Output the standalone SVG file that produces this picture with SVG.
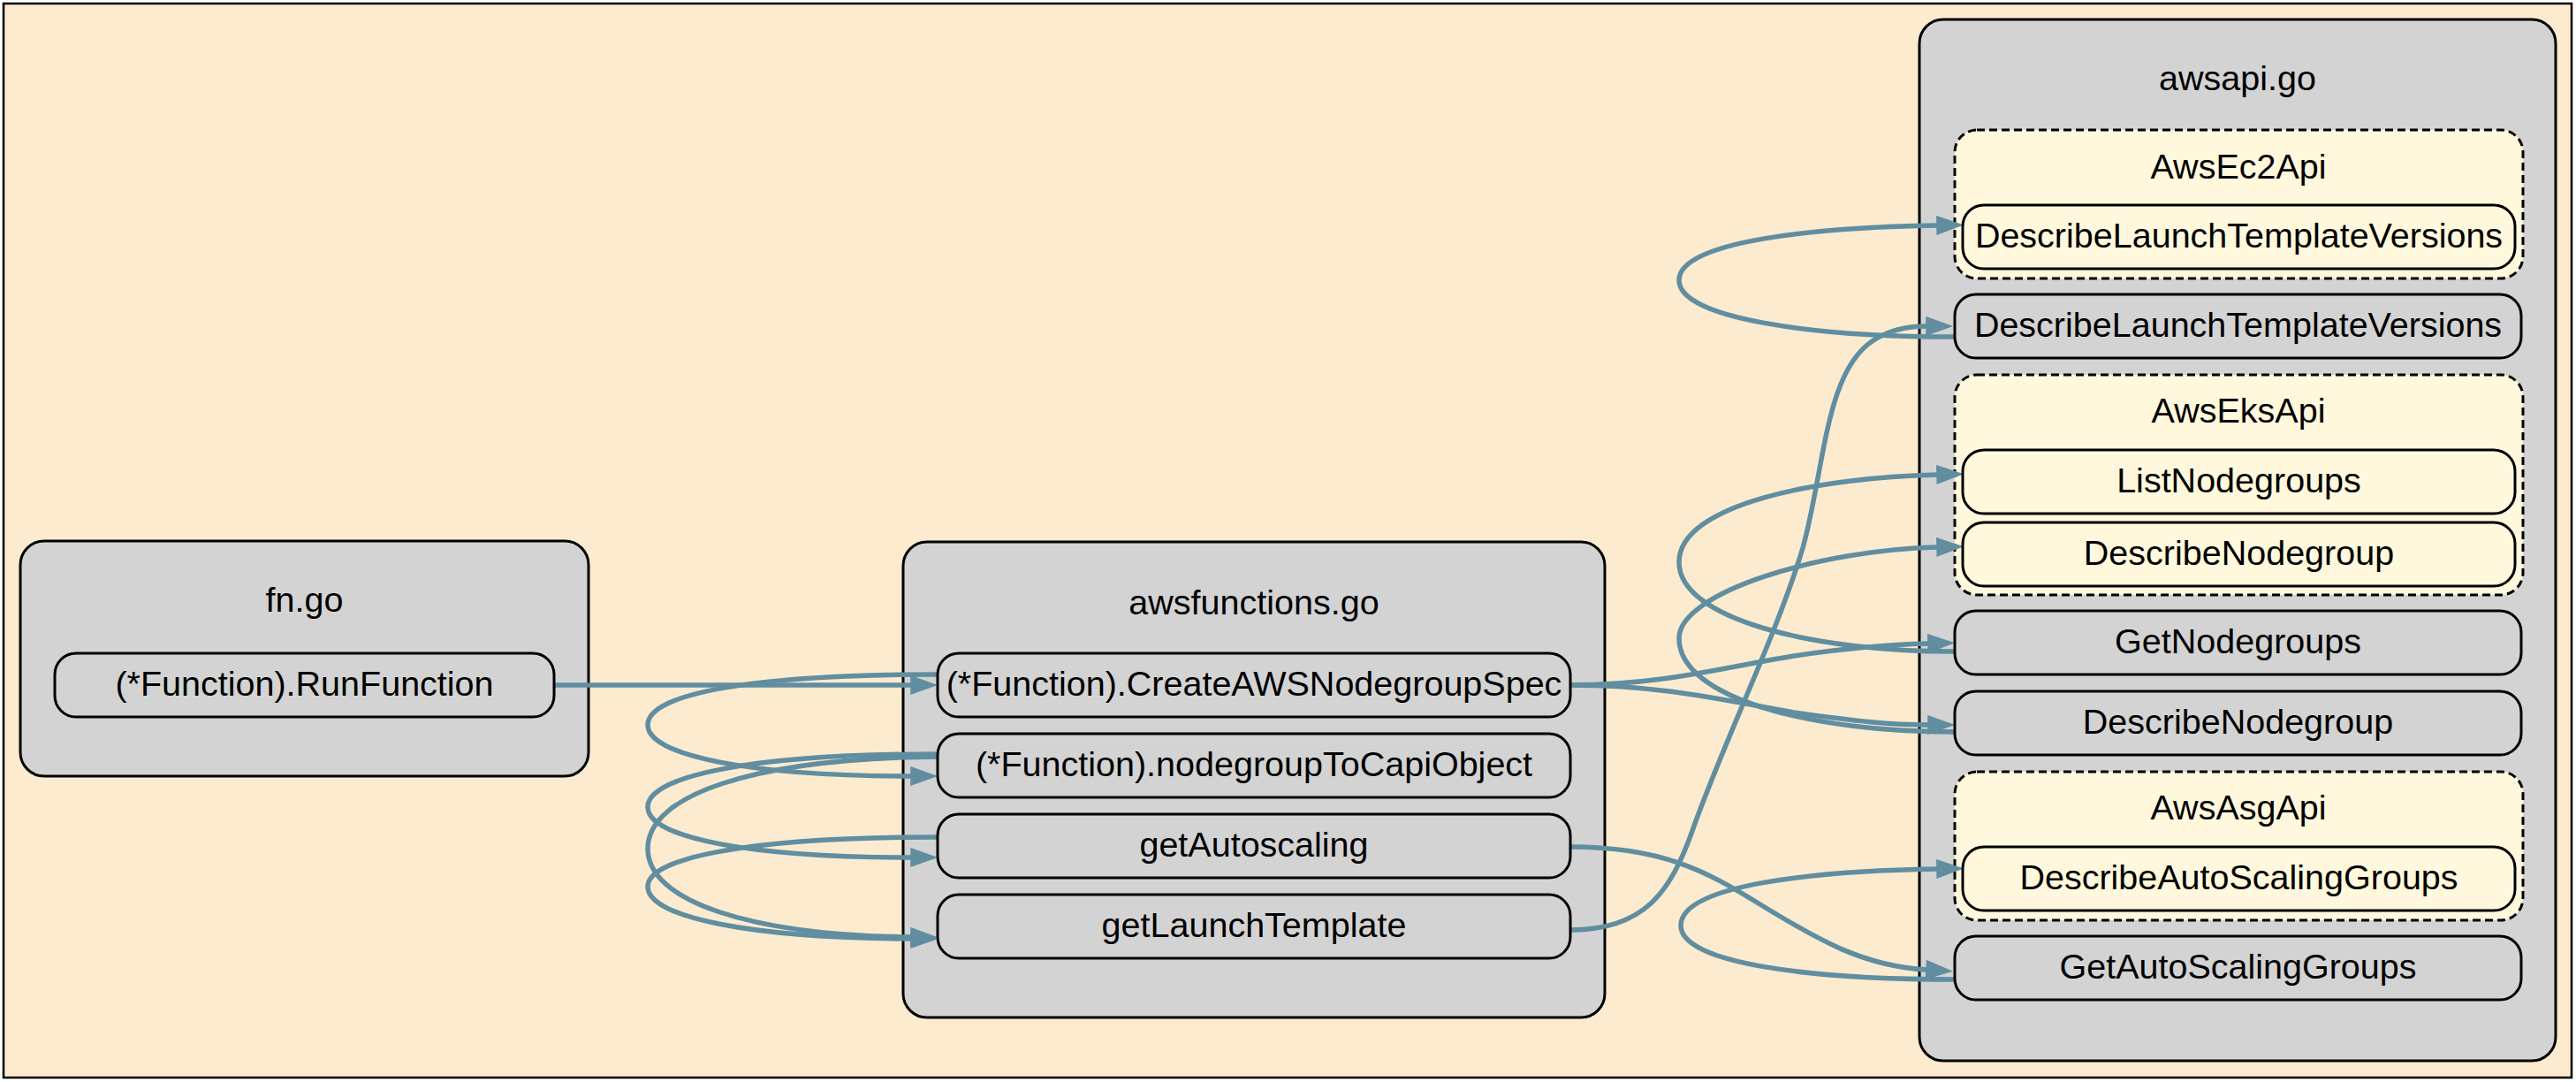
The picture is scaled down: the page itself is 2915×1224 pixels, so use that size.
<svg xmlns="http://www.w3.org/2000/svg" width="2915" height="1224" viewBox="0 0 2915 1224">
<style>
text{font-family:"Liberation Sans",Arial,sans-serif;font-size:39.5px;fill:#000;text-anchor:middle}
.cl{fill:#d3d3d3;stroke:#000;stroke-width:3}
.dc{fill:#fff8dc;stroke:#000;stroke-width:3;stroke-dasharray:9,5}
.n{fill:#d3d3d3;stroke:#000;stroke-width:3}
.ny{fill:#fff8dc;stroke:#000;stroke-width:3}
.e{fill:none;stroke:#608ea0;stroke-width:5.5}
</style>
<defs>
<marker id="ah" markerUnits="userSpaceOnUse" markerWidth="32" markerHeight="24" refX="0" refY="10" orient="auto" overflow="visible">
<path d="M0,0 L28,10 L0,20 z" fill="#608ea0" stroke="#608ea0" stroke-width="1.5"/>
</marker>
</defs>
<rect x="0" y="0" width="2915" height="1224" fill="#fff"/>
<rect x="4" y="4" width="2906" height="1215" fill="#fcebcf" stroke="#000" stroke-width="2.5"/>

<g id="cluster-fn">
<rect class="cl" x="23" y="612" width="643" height="266" rx="27"/>
<text x="344.5" y="692">fn.go</text>
</g>
<g id="cluster-awsfunctions">
<rect class="cl" x="1022" y="613" width="794" height="538" rx="27"/>
<text x="1419" y="695">awsfunctions.go</text>
</g>
<g id="cluster-awsapi">
<rect class="cl" x="2172" y="22" width="720" height="1178" rx="27"/>
<text x="2532" y="102">awsapi.go</text>
</g>
<g id="cluster-AwsEc2Api">
<rect class="dc" x="2212" y="147" width="643" height="168" rx="25"/>
<text x="2533" y="202">AwsEc2Api</text>
</g>
<g id="cluster-AwsEksApi">
<rect class="dc" x="2212" y="424" width="643" height="249" rx="25"/>
<text x="2533" y="478">AwsEksApi</text>
</g>
<g id="cluster-AwsAsgApi">
<rect class="dc" x="2212" y="873" width="643" height="168" rx="25"/>
<text x="2533" y="927">AwsAsgApi</text>
</g>

<g id="connectors">
<path class="e" marker-end="url(#ah)" d="M627,775 L1031,775"/>
<path class="e" marker-end="url(#ah)" d="M1061,763 C850,763 733,785 733,820 C733,855 850,878 1031,878"/>
<path class="e" marker-end="url(#ah)" d="M1061,853 C850,853 733,878 733,913 C733,948 850,970 1031,970"/>
<path class="e" marker-end="url(#ah)" d="M1061,856 C850,858 733,900 733,960 C733,1020 850,1058 1031,1060"/>
<path class="e" marker-end="url(#ah)" d="M1061,947 C850,947 733,970 733,1003 C733,1038 850,1061 1031,1062"/>
<path class="e" marker-end="url(#ah)" d="M1777,775 C1880,775 1950,755 2030,742 C2090,733 2140,729 2182,728"/>
<path class="e" marker-end="url(#ah)" d="M1777,775 C1880,775 1950,792 2030,806 C2100,816 2140,820 2182,820"/>
<path class="e" marker-end="url(#ah)" d="M2212,737 C2050,737 1900,700 1900,636 C1900,570 2060,540 2192,537"/>
<path class="e" marker-end="url(#ah)" d="M2212,828 C2050,828 1900,790 1900,722 C1900,670 2060,622 2192,619"/>
<path class="e" marker-end="url(#ah)" d="M2212,381 C2050,381 1900,360 1900,317 C1900,272 2060,257 2192,255"/>
<path class="e" marker-end="url(#ah)" d="M1777,1052 C1860,1052 1890,1010 1915,940 C1950,840 2010,720 2040,620 C2065,530 2065,420 2120,385 C2140,372 2160,369 2180,369"/>
<path class="e" marker-end="url(#ah)" d="M1777,958 C1880,958 1930,985 1990,1022 C2060,1065 2110,1093 2180,1097"/>
<path class="e" marker-end="url(#ah)" d="M2212,1108 C2050,1108 1902,1090 1902,1047 C1902,1000 2060,985 2192,983"/>
</g>

<g id="node-RunFunction">
<rect class="n" x="62" y="739" width="565" height="72" rx="24"/>
<text x="344.5" y="787">(*Function).RunFunction</text>
</g>
<g id="node-CreateAWSNodegroupSpec">
<rect class="n" x="1061" y="739" width="716" height="72" rx="24"/>
<text x="1419" y="787">(*Function).CreateAWSNodegroupSpec</text>
</g>
<g id="node-nodegroupToCapiObject">
<rect class="n" x="1061" y="830" width="716" height="72" rx="24"/>
<text x="1419" y="878">(*Function).nodegroupToCapiObject</text>
</g>
<g id="node-getAutoscaling">
<rect class="n" x="1061" y="921" width="716" height="72" rx="24"/>
<text x="1419" y="969">getAutoscaling</text>
</g>
<g id="node-getLaunchTemplate">
<rect class="n" x="1061" y="1012" width="716" height="72" rx="24"/>
<text x="1419" y="1060">getLaunchTemplate</text>
</g>
<g id="node-Ec2-DescribeLaunchTemplateVersions">
<rect class="ny" x="2221" y="232" width="625" height="72" rx="24"/>
<text x="2533.5" y="280">DescribeLaunchTemplateVersions</text>
</g>
<g id="node-DescribeLaunchTemplateVersions">
<rect class="n" x="2212" y="333" width="641" height="72" rx="24"/>
<text x="2532.5" y="381">DescribeLaunchTemplateVersions</text>
</g>
<g id="node-Eks-ListNodegroups">
<rect class="ny" x="2221" y="509" width="625" height="72" rx="24"/>
<text x="2533.5" y="557">ListNodegroups</text>
</g>
<g id="node-Eks-DescribeNodegroup">
<rect class="ny" x="2221" y="591" width="625" height="72" rx="24"/>
<text x="2533.5" y="639">DescribeNodegroup</text>
</g>
<g id="node-GetNodegroups">
<rect class="n" x="2212" y="691" width="641" height="72" rx="24"/>
<text x="2532.5" y="739">GetNodegroups</text>
</g>
<g id="node-DescribeNodegroup">
<rect class="n" x="2212" y="782" width="641" height="72" rx="24"/>
<text x="2532.5" y="830">DescribeNodegroup</text>
</g>
<g id="node-Asg-DescribeAutoScalingGroups">
<rect class="ny" x="2221" y="958" width="625" height="72" rx="24"/>
<text x="2533.5" y="1006">DescribeAutoScalingGroups</text>
</g>
<g id="node-GetAutoScalingGroups">
<rect class="n" x="2212" y="1059" width="641" height="72" rx="24"/>
<text x="2532.5" y="1107">GetAutoScalingGroups</text>
</g>
</svg>
